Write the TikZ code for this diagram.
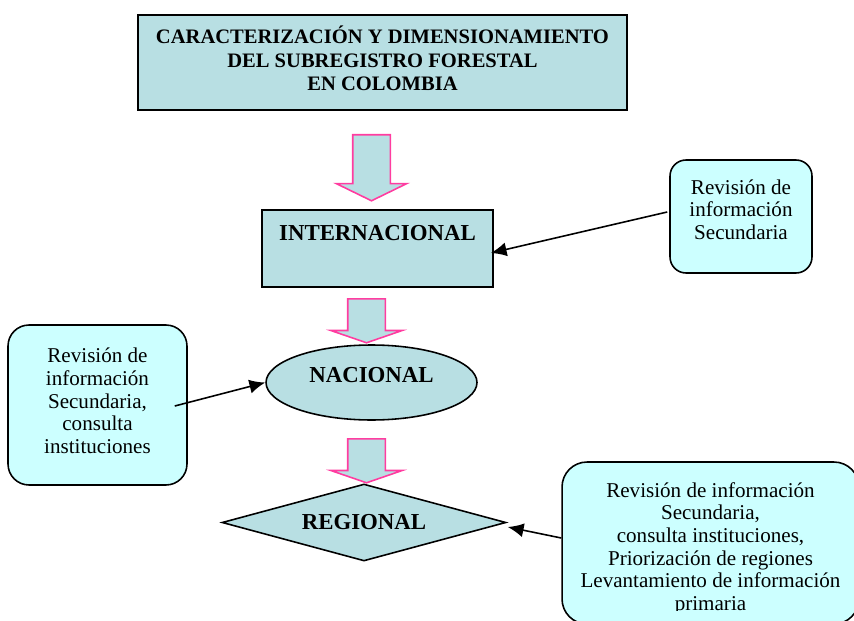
\documentclass[tikz,border=0pt]{standalone}
\usepackage{fontspec}
\setmainfont{Liberation Serif}
\usetikzlibrary{shapes.geometric,shapes.arrows,arrows.meta,calc}

\definecolor{boxblue}{RGB}{184,223,227}
\definecolor{notecyan}{RGB}{204,255,255}
\definecolor{arrowpink}{RGB}{255,60,160}

\begin{document}
\begin{tikzpicture}[x=0.02cm,y=-0.02cm,>={Latex[length=9pt,width=8pt]},
                    line width=0.9pt]
  \tikzstyle{level}=[draw=black,fill=boxblue,inner sep=0pt,
                     font=\fontsize{13}{15}\selectfont\bfseries]
  \tikzstyle{note}=[draw=black,fill=notecyan]
  \tikzstyle{notetext}=[align=center,inner sep=0pt,
                        font=\fontsize{12}{12.9}\selectfont]
  \tikzstyle{downarrow}=[single arrow,draw=arrowpink,fill=boxblue,inner xsep=0pt,
                         rotate=-90,anchor=tail]

  \useasboundingbox (0,0) rectangle (854,621);
  \clip (0,0) rectangle (854,621);

  % levels
  \node[level,minimum width=9.78cm,minimum height=1.9cm] (title) at (382.5,62.5) {};
  \node[align=center,inner sep=0pt,font=\fontsize{11.7}{13.4}\selectfont\bfseries]
        (titletxt) at (382.5,58.5)
        {CARACTERIZACIÓN Y DIMENSIONAMIENTO\\DEL SUBREGISTRO FORESTAL\\EN COLOMBIA};
  \node[level,minimum width=4.62cm,minimum height=1.54cm,
        text height=9pt,text depth=18pt] (inter) at (377.5,248.5) {INTERNACIONAL};
  \node[level,ellipse,minimum width=4.22cm,minimum height=1.5cm,
        text height=9pt,text depth=9pt] (nac) at (371.5,382.5) {NACIONAL};
  \node[level,diamond,aspect=3.7,minimum width=5.68cm,minimum height=1.54cm]
        (reg) at (364,522.5) {REGIONAL};

  % block arrows
  \node[downarrow,minimum height=1.32cm,inner ysep=0.36cm,
        single arrow head extend=0.33cm,single arrow tip angle=128] (arr1) at (371.5,134) {};
  \node[downarrow,minimum height=0.88cm,inner ysep=0.36cm,
        single arrow head extend=0.34cm,single arrow tip angle=142] (arr2) at (366.5,298) {};
  \node[downarrow,minimum height=0.88cm,inner ysep=0.36cm,
        single arrow head extend=0.34cm,single arrow tip angle=142] (arr3) at (366.5,438) {};

  % notes
  \node[note,rounded corners=0.32cm,minimum width=2.84cm,minimum height=2.26cm]
        (refint) at (741,216.5) {};
  \node[notetext] (refinttxt) at (741,209.5) {Revisión de\\información\\Secundaria};

  \node[note,rounded corners=0.42cm,minimum width=3.58cm,minimum height=3.2cm]
        (refnac) at (97.5,405) {};
  \node[notetext] (refnactxt) at (97.5,401)
        {Revisión de\\información\\Secundaria,\\consulta\\instituciones};

  \node[note,rounded corners=0.5cm,minimum width=5.94cm,minimum height=3.24cm]
        (refreg) at (710.5,543) {};
  \begin{scope}
    \clip (560,460) rectangle (854,610);
    \node[notetext] (refregtxt) at (710.5,548.5)
          {Revisión de información\\Secundaria,\\consulta instituciones,\\Priorización de regiones\\Levantamiento de información\\primaria};
  \end{scope}

  \path[black,->]
        ($(refint.west)+(-2,-4.5)$) edge ($(inter.east)+(-3,4.5)$)
        ($(refnac.east)+(-13,1)$)   edge (nac.west)
        ($(refreg.west)+(0,-5)$)    edge ($(reg.east)+(1,4.5)$);
\end{tikzpicture}
\end{document}
